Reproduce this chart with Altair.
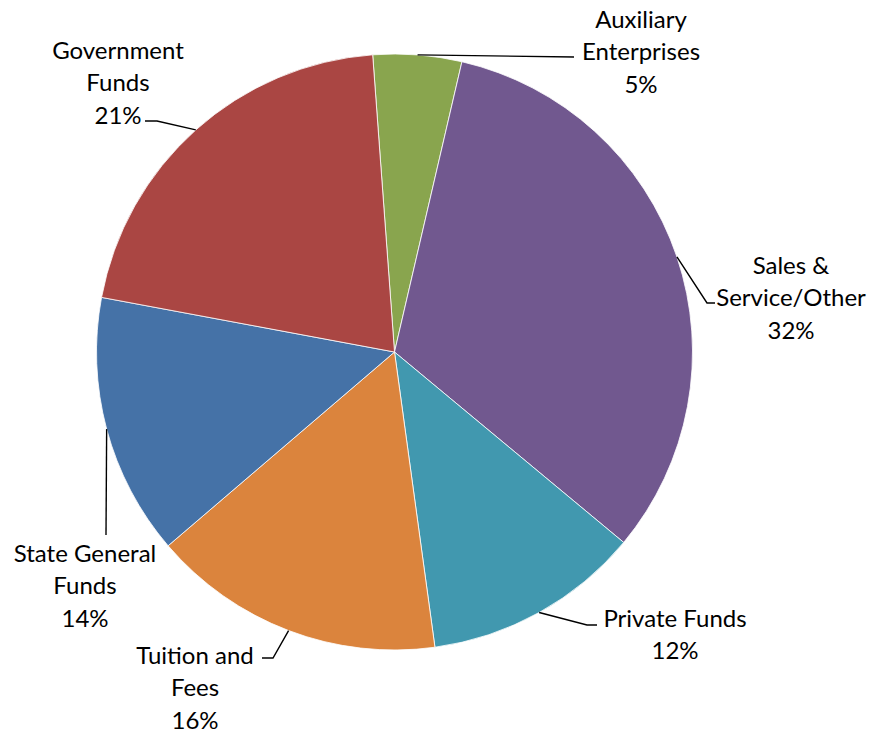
import math
import altair as alt
import pandas as pd

# ---- data ----
categories = ["Auxiliary Enterprises", "Sales & Service/Other", "Private Funds",
              "Tuition and Fees", "State General Funds", "Government Funds"]
shares = [4.8, 32.4, 11.8, 15.9, 14.2, 20.9]
label_lines = [["Auxiliary", "Enterprises"], ["Sales &", "Service/Other"], ["Private Funds"],
               ["Tuition and", "Fees"], ["State General", "Funds"], ["Government", "Funds"]]
colors = ["#89A54E", "#71588F", "#4198AF", "#DB843D", "#4572A7", "#AA4643"]

# ---- layout (pixels, page coordinates) ----
M = 8
W, H = 859, 721
CX, CY, R = 394.5, 352.0, 298.0
START_DEG = -4.2
FONT, FS, LH = "Lato", 24, 32.5
label_pos = [(641, 19), (791, 265), (675, 618), (195, 655), (85, 553), (118, 50)]
leader_tail = [
    [(574, 57)],
    [(707, 303), (715, 303)],
    [(587, 625), (597, 625)],
    [(273, 658), (262, 658)],
    [(106, 535)],
    [(157, 121), (145, 121)],
]

df = pd.DataFrame({"category": categories, "share": shares, "idx": range(len(categories))})

# leader lines: start on the rim at each slice's mid-angle (from the data)
line_rows = []
cum = 0.0
total = sum(shares)
for i, (cat, s) in enumerate(zip(categories, shares)):
    mid = math.radians(START_DEG + (cum + s / 2) / total * 360)
    cum += s
    pts = [(CX + R * math.sin(mid), CY - R * math.cos(mid))] + leader_tail[i]
    for k, (px, py) in enumerate(pts):
        line_rows.append({"category": cat, "k": k, "px": px - M, "py": py - M})
lines_df = pd.DataFrame(line_rows)

text_rows = []
for i, (cat, s) in enumerate(zip(categories, shares)):
    lx, ly = label_pos[i]
    texts = label_lines[i] + [f"{round(s)}%"]
    for j, t in enumerate(texts):
        text_rows.append({"txt": t, "px": lx - M, "py": ly - M + j * LH + 0.36 * FS})
text_df = pd.DataFrame(text_rows)

start = math.radians(START_DEG)
pie = alt.Chart(df).mark_arc(outerRadius=R, stroke="white", strokeWidth=0.8).encode(
    theta=alt.Theta("share:Q", stack=True,
                    scale=alt.Scale(range=[start, start + 2 * math.pi])),
    color=alt.Color("category:N", scale=alt.Scale(domain=categories, range=colors), legend=None),
    order=alt.Order("idx:Q"),
    x=alt.value(CX - M),
    y=alt.value(CY - M),
)

xs = alt.Scale(domain=[0, W], range=[0, W], nice=False, zero=False)
ys = alt.Scale(domain=[0, H], range=[0, H], nice=False, zero=False)

leaders = alt.Chart(lines_df).mark_line(color="#000000", strokeWidth=1.4).encode(
    x=alt.X("px:Q", scale=xs, axis=None),
    y=alt.Y("py:Q", scale=ys, axis=None),
    detail="category:N",
    order="k:Q",
)

labels = alt.Chart(text_df).mark_text(font=FONT, fontSize=FS, align="center",
                                      baseline="alphabetic", color="#000000").encode(
    x=alt.X("px:Q", scale=xs, axis=None),
    y=alt.Y("py:Q", scale=ys, axis=None),
    text="txt:N",
)

chart = alt.layer(pie, leaders, labels).properties(
    width=W, height=H, autosize=alt.AutoSizeParams(type="none"), padding=0
).configure_view(stroke=None)

chart.save("out.html", embed_options={"renderer": "svg", "actions": False})
